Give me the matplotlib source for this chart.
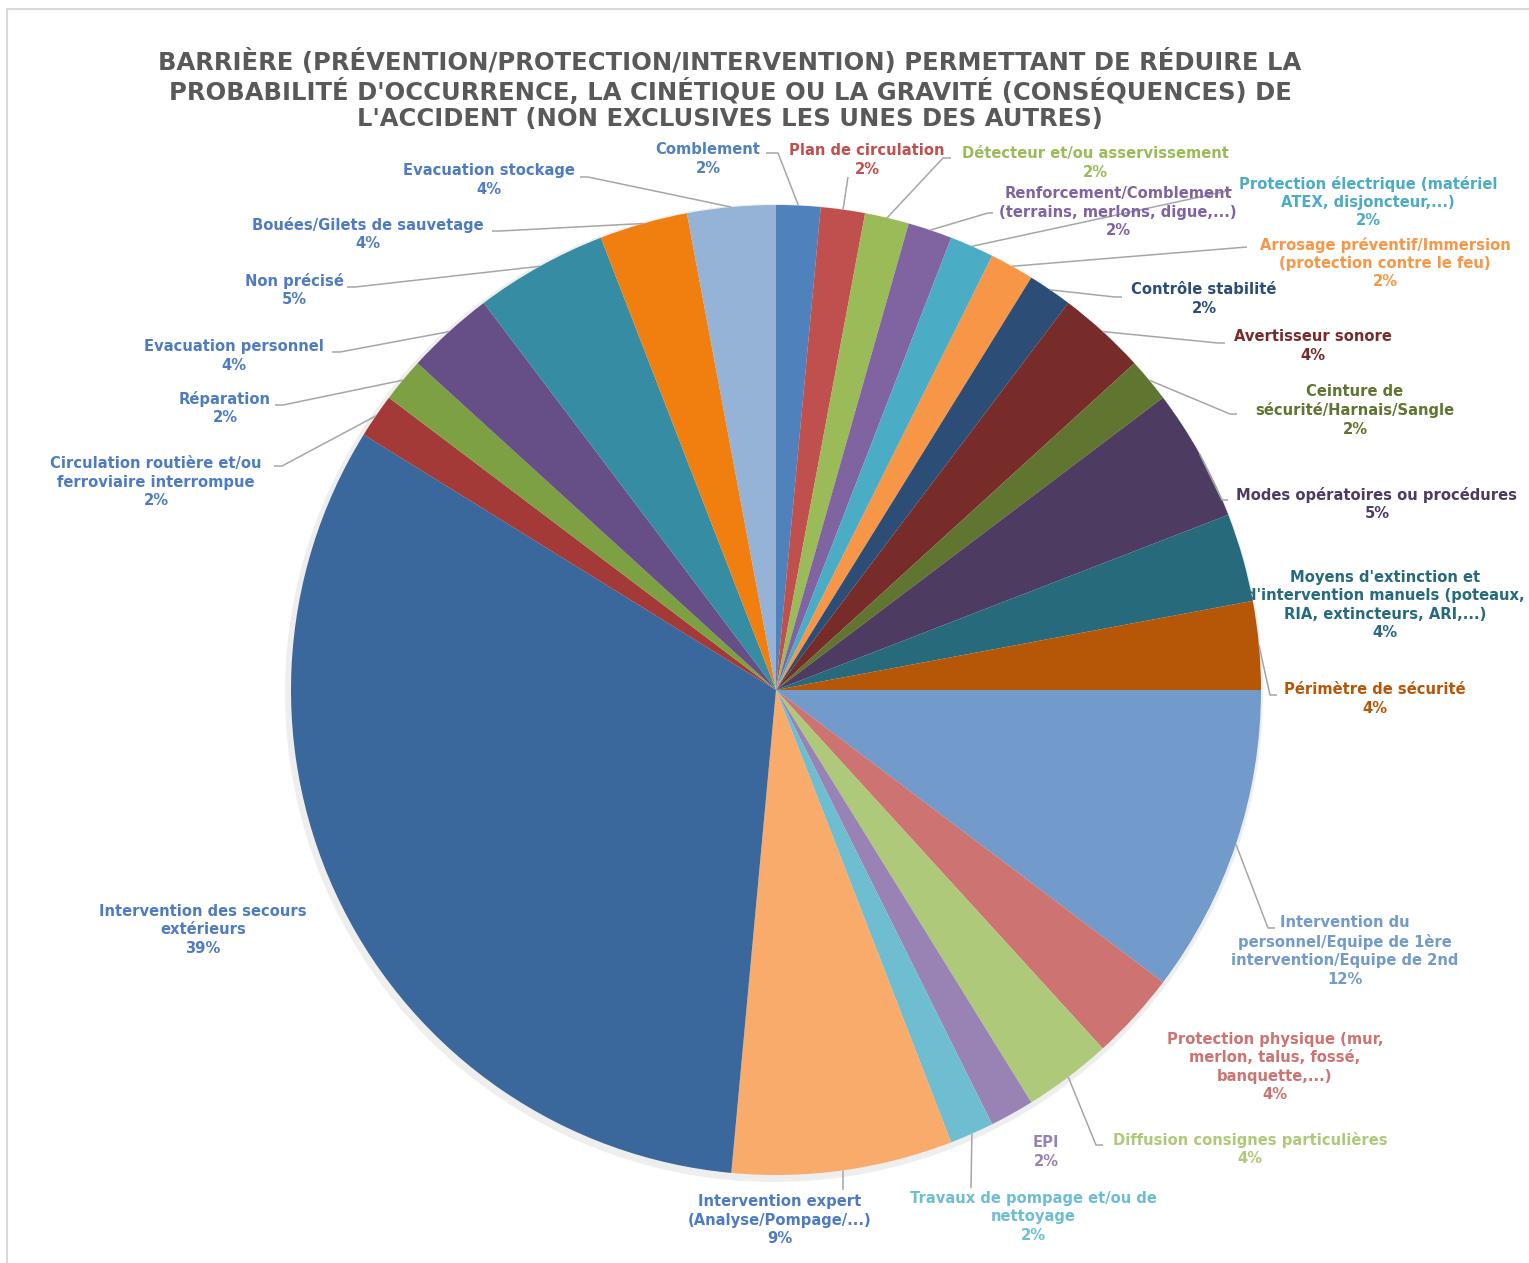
import numpy as np
import matplotlib
matplotlib.use("Agg")
import matplotlib.pyplot as plt
import matplotlib.patches as mpatches

W, H = 1529, 1263

# données (nombre de mentions par barrière, sens horaire depuis midi)
labels = [
    "Comblement",
    "Plan de circulation",
    "Détecteur et/ou asservissement",
    "Renforcement/Comblement\n(terrains, merlons, digue,...)",
    "Protection électrique (matériel\nATEX, disjoncteur,...)",
    "Arrosage préventif/Immersion\n(protection contre le feu)",
    "Contrôle stabilité",
    "Avertisseur sonore",
    "Ceinture de\nsécurité/Harnais/Sangle",
    "Modes opératoires ou procédures",
    "Moyens d'extinction et\nd'intervention manuels (poteaux,\nRIA, extincteurs, ARI,...)",
    "Périmètre de sécurité",
    "Intervention du\npersonnel/Equipe de 1ère\nintervention/Equipe de 2nd",
    "Protection physique (mur,\nmerlon, talus, fossé,\nbanquette,...)",
    "Diffusion consignes particulières",
    "EPI",
    "Travaux de pompage et/ou de\nnettoyage",
    "Intervention expert\n(Analyse/Pompage/...)",
    "Intervention des secours\nextérieurs",
    "Circulation routière et/ou\nferroviaire interrompue",
    "Réparation",
    "Evacuation personnel",
    "Non précisé",
    "Bouées/Gilets de sauvetage",
    "Evacuation stockage",
]
counts = [1, 1, 1, 1, 1, 1, 1, 2, 1, 3, 2, 2, 7, 2, 2, 1, 1, 5, 22, 1, 1, 2, 3, 2, 2]
pct_shown = [2, 2, 2, 2, 2, 2, 2, 4, 2, 5, 4, 4, 12, 4, 4, 2, 2, 9, 39, 2, 2, 4, 5, 4, 4]

colors = [
    "#4F81BD", "#C0504D", "#9BBB59", "#8064A2", "#4BACC6", "#F79646",
    "#2C4D75", "#772C2A", "#5F7530", "#4D3B62", "#276A7C", "#B65708",
    "#729ACA", "#CD7371", "#AFC97A", "#9983B5", "#6FBDD1", "#F9AB6B",
    "#3A679C", "#A43A37", "#7DA042", "#664F87", "#358CA3", "#F17F0F",
    "#95B3D7",
]
blue_txt = "#4F7CC0"
text_colors = colors[:17] + [blue_txt] * 8

# mise en page (pixels de l'image, y vers le bas)
cx, cy, r = 776, 690, 485
label_xy = [
    (708, 159), (867, 160), (1095, 163), (1118, 212), (1368, 202),
    (1385, 263), (1204, 299), (1313, 346), (1355, 410), (1377, 504),
    (1385, 605), (1375, 699), (1345, 951), (1275, 1067), (1250, 1149),
    (1046, 1152), (1033, 1217), (780, 1220), (203, 930), (156, 482),
    (225, 408), (234, 356), (294, 290), (368, 234), (489, 180),
]
# coude de la ligne de rappel + extrémité du petit segment horizontal
leaders = [
    (778, 153, 766), (848, 177, 848), (943, 158, 951), (988, 213, 993),
    (1232, 190, 1232), (1247, 247, 1247), (1115, 297, 1122), (1218, 343, 1225),
    (1230, 414, 1237), (1222, 500, 1228), None, (1270, 695, 1277),
    (1268, 928, 1275), None, (1096, 1145, 1103), None, (971, 1188, 971),
    (843, 1190, 843), None, (282, 466, 274), (283, 405, 275), (340, 352, 332),
    (355, 287, 347), (500, 231, 492), (588, 177, 580),
]

fig = plt.figure(figsize=(W / 100, H / 100), dpi=100)
ax = fig.add_axes([0, 0, 1, 1])

# ombre légère autour du disque
ax.add_patch(mpatches.Circle((cx - 2, H - cy - 3), r + 4, color="#D5D5D5",
                             alpha=0.4, lw=0, zorder=0))

wedges, _ = ax.pie(counts, colors=colors, startangle=90, counterclock=False,
                   center=(cx, H - cy), radius=r,
                   wedgeprops=dict(linewidth=0))

for i, w in enumerate(wedges):
    txt = f"{labels[i]}\n{pct_shown[i]}%"
    lx, ly = label_xy[i]
    ax.text(lx, H - ly, txt, ha="center", va="center", multialignment="center",
            fontsize=10.6, fontweight="bold", color=text_colors[i],
            linespacing=1.28, zorder=5)
    if leaders[i] is not None:
        ex, ey, tx = leaders[i]
        a = np.deg2rad((w.theta1 + w.theta2) / 2)
        px, py = cx + r * np.cos(a), (H - cy) + r * np.sin(a)
        ax.plot([px, ex, tx], [py, H - ey, H - ey], color="#A6A6A6",
                lw=1.1, zorder=4, solid_capstyle="butt")

title = ("BARRIÈRE (PRÉVENTION/PROTECTION/INTERVENTION) PERMETTANT DE RÉDUIRE LA\n"
         "PROBABILITÉ D'OCCURRENCE, LA CINÉTIQUE OU LA GRAVITÉ (CONSÉQUENCES) DE\n"
         "L'ACCIDENT (NON EXCLUSIVES LES UNES DES AUTRES)")
ax.text(730, H - 90, title, ha="center", va="center", multialignment="center",
        fontsize=17.5, fontweight="bold", color="#595959", linespacing=1.12)

# cadre du graphique
ax.add_patch(mpatches.Rectangle((7, -50), W + 100, H - 9 + 50, fill=False,
                                edgecolor="#D9D9D9", lw=1.5, clip_on=False))

ax.set_xlim(0, W)
ax.set_ylim(0, H)
ax.set_aspect("auto")
ax.axis("off")

fig.savefig("out.png", dpi=100)
